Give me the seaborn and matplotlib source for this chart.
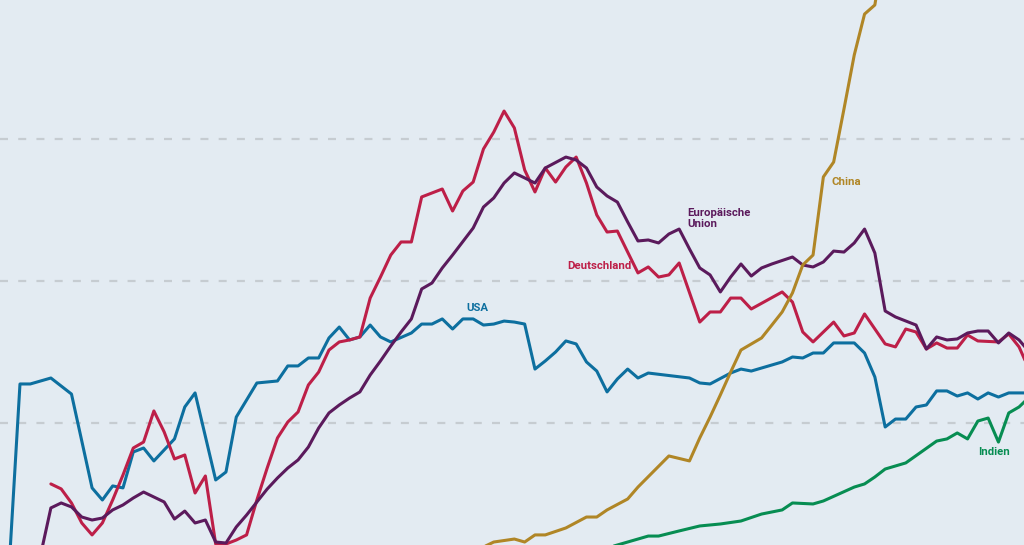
import numpy as np
import pandas as pd
import matplotlib
matplotlib.use('Agg')
import matplotlib.pyplot as plt
import seaborn as sns

jahre_usa = [1924, 1925, 1926, 1928, 1930, 1932, 1933, 1934, 1935, 1936, 1937, 1938,
             1940, 1941, 1942, 1944, 1945, 1946, 1948, 1950, 1951, 1952, 1953, 1954,
             1955, 1956, 1957, 1958, 1959, 1960, 1961, 1963, 1964, 1965, 1966, 1967,
             1968, 1969, 1970, 1971, 1972, 1973, 1974, 1975, 1976, 1977, 1978, 1979,
             1980, 1981, 1982, 1983, 1984, 1985, 1986, 1990, 1991, 1992, 1994, 1995,
             1996, 1999, 2000, 2001, 2002, 2003, 2004, 2006, 2007, 2008, 2009, 2010,
             2011, 2012, 2013, 2014, 2015, 2016, 2017, 2018, 2019, 2020, 2021, 2022, 2023]
werte_usa = [5, 127.5, 127.5, 131.7, 120.4, 54.3, 45.8, 55.7, 54.3, 79.6, 82.4, 73.3,
             88.8, 111.3, 121.2, 59.9, 65.5, 104.2, 128.2, 129.6, 140.2, 140.2, 145.8, 145.8,
             159.9, 167.6, 158.5, 160.6, 169.0, 160.6, 157.1, 163.4, 169.7, 169.7, 173.3, 166.2,
             173.3, 173.3, 169.0, 169.7, 171.8, 171.1, 169.7, 138.0, 143.7, 150.0, 157.8, 155.7,
             143.0, 136.6, 121.9, 131.0, 138.0, 131.7, 135.2, 131.7, 128.2, 127.5, 135.2, 138.0,
             136.6, 143.0, 146.5, 145.8, 149.3, 149.3, 156.4, 156.4, 149.3, 132.4, 97.2, 102.8,
             102.8, 111.3, 112.7, 122.6, 122.6, 119.0, 121.2, 116.9, 121.2, 118.3, 121.2, 121.2, 121.2]

jahre_de = [1928, 1929, 1930, 1931, 1932, 1933, 1934, 1935, 1936, 1937, 1938, 1939,
            1940, 1941, 1942, 1943, 1944, 1945, 1946, 1947, 1948, 1949, 1950, 1951,
            1952, 1953, 1954, 1955, 1956, 1957, 1958, 1959, 1960, 1961, 1962, 1963,
            1964, 1966, 1967, 1968, 1969, 1970, 1971, 1972, 1973, 1974, 1975, 1976,
            1977, 1978, 1979, 1980, 1981, 1982, 1983, 1984, 1985, 1986, 1987, 1988,
            1989, 1991, 1992, 1993, 1994, 1995, 1996, 1999, 2000, 2001, 2002, 2004,
            2005, 2006, 2007, 2009, 2010, 2011, 2012, 2013, 2014, 2015, 2016, 2017,
            2018, 2020, 2021, 2022, 2023]
werte_de = [57.1, 53.6, 43.7, 29.6, 21.2, 29.6, 45.8, 63.4, 82.4, 86.6, 108.5, 93.7,
            74.7, 77.5, 50.7, 62.7, 14.8, 14.8, 17.6, 21.2, 45.8, 68.3, 89.5, 100.7,
            107.8, 126.8, 135.9, 151.4, 157.1, 158.5, 160.6, 188.0, 202.8, 218.3, 227.5, 227.5,
            259.2, 264.8, 249.3, 263.4, 269.7, 293.0, 304.9, 319.7, 307.8, 278.2, 262.7, 279.6,
            269.7, 280.3, 287.3, 269.0, 246.5, 234.5, 235.2, 220.4, 205.7, 209.9, 202.8, 204.3,
            212.7, 171.1, 178.2, 178.2, 188.0, 188.0, 180.3, 192.3, 185.2, 164.1, 157.1, 171.1,
            161.3, 163.4, 176.8, 155.7, 153.6, 166.2, 164.1, 152.1, 156.4, 152.8, 152.8, 162.0,
            157.8, 157.1, 162.7, 153.6, 137.3]

jahre_eu = [1927, 1928, 1929, 1930, 1931, 1932, 1933, 1934, 1935, 1936, 1937, 1938,
            1939, 1940, 1941, 1942, 1943, 1944, 1945, 1946, 1947, 1948, 1949, 1950,
            1951, 1952, 1953, 1954, 1955, 1956, 1957, 1958, 1959, 1960, 1961, 1962,
            1963, 1964, 1965, 1966, 1967, 1969, 1970, 1971, 1972, 1973, 1974, 1975,
            1976, 1978, 1979, 1980, 1981, 1982, 1983, 1984, 1985, 1986, 1987, 1988,
            1989, 1990, 1991, 1992, 1993, 1994, 1995, 1996, 1997, 1998, 2000, 2001,
            2002, 2003, 2004, 2005, 2006, 2007, 2008, 2009, 2010, 2012, 2013, 2014,
            2015, 2016, 2017, 2018, 2019, 2020, 2021, 2022, 2023]
werte_eu = [7.1, 40.2, 43.7, 40.9, 33.8, 31.7, 33.1, 38.8, 42.3, 47.2, 51.4, 47.9,
            44.4, 32.4, 38.0, 29.6, 31.7, 16.2, 15.5, 26.8, 35.2, 44.4, 53.5, 61.3,
            68.3, 74.0, 83.1, 96.5, 107.1, 112.7, 117.6, 121.9, 133.8, 143.7, 154.2, 164.1,
            173.3, 194.4, 198.6, 209.2, 218.3, 237.3, 252.1, 258.5, 269.0, 276.1, 272.6, 269.0,
            279.6, 287.3, 285.2, 279.6, 266.2, 259.9, 255.6, 241.6, 228.2, 228.9, 226.8, 233.1,
            236.6, 222.6, 209.2, 204.3, 192.3, 202.8, 212.0, 203.5, 209.2, 212.0, 216.9, 211.3,
            209.9, 213.4, 221.1, 220.4, 226.8, 236.6, 219.7, 178.9, 174.7, 169.0, 152.1, 160.6,
            158.5, 159.2, 163.4, 164.8, 164.8, 156.4, 163.4, 158.5, 150.0]

jahre_cn = [1970, 1971, 1973, 1974, 1975, 1976, 1978, 1980, 1981, 1982, 1984, 1985,
            1988, 1990, 1991, 1992, 1993, 1994, 1995, 1997, 1998, 1999, 2000, 2001,
            2002, 2003, 2004, 2005, 2006, 2007, 2008, 2009]
werte_cn = [12.7, 16.2, 18.3, 16.2, 21.2, 21.2, 26.1, 33.8, 33.8, 38.8, 46.5, 54.9,
            76.8, 73.3, 89.5, 104.2, 119.8, 135.9, 151.4, 159.9, 169.0, 178.2, 191.6, 211.3,
            218.3, 273.3, 283.8, 321.1, 359.2, 388.0, 394.4, 440.2]

jahre_in = [1982, 1985, 1986, 1987, 1989, 1991, 1993, 1995, 1997, 1999, 2000, 2002,
            2003, 2006, 2007, 2008, 2009, 2011, 2014, 2015, 2016, 2017, 2018, 2019,
            2020, 2021, 2022, 2023]
werte_in = [12.0, 18.3, 20.4, 20.4, 24.0, 27.5, 28.9, 31.0, 35.9, 38.8, 43.7, 43.0,
            45.1, 54.9, 57.1, 62.0, 67.6, 71.9, 87.3, 88.8, 93.0, 88.8, 101.4, 103.5,
            86.6, 107.1, 111.3, 118.3]

laender = ['USA', 'Deutschland', 'Europäische Union', 'China', 'Indien']
farben = ['#0d6f9f', '#bd1f48', '#5b1a5c', '#b08626', '#078d52']

df = pd.concat([
    pd.DataFrame({'Jahr': jahre_usa, 'Wert': werte_usa, 'Land': 'USA'}),
    pd.DataFrame({'Jahr': jahre_de, 'Wert': werte_de, 'Land': 'Deutschland'}),
    pd.DataFrame({'Jahr': jahre_eu, 'Wert': werte_eu, 'Land': 'Europäische Union'}),
    pd.DataFrame({'Jahr': jahre_cn, 'Wert': werte_cn, 'Land': 'China'}),
    pd.DataFrame({'Jahr': jahre_in, 'Wert': werte_in, 'Land': 'Indien'}),
])

sns.set_theme(style='white')
plt.rcParams['font.family'] = ['Roboto', 'DejaVu Sans']

hintergrund = '#e3ebf2'
fig = plt.figure(figsize=(10.24, 5.45), dpi=100, facecolor=hintergrund)
ax = fig.add_axes([0, 0, 1, 1])
ax.set_facecolor(hintergrund)

for y in [100, 200, 300]:
    ax.axhline(y, color='#c6ccd1', linewidth=1.6, linestyle=(0, (3.6, 4.6)), zorder=0)

sns.lineplot(data=df, x='Jahr', y='Wert', hue='Land', hue_order=laender,
             palette=farben, estimator=None, linewidth=2.2, legend=False, ax=ax)

ax.set_xlim(1923.06, 2022.48)
ax.set_ylim(14.1, 397.9)
ax.set_xticks([])
ax.set_yticks([])
ax.set_xlabel('')
ax.set_ylabel('')
for s in ax.spines.values():
    s.set_visible(False)

stil = dict(fontsize=8.2, fontweight='bold', va='center')
ax.text(1969.4, 181.0, 'USA', color=farben[0], ha='center', **stil)
ax.text(1981.3, 210.6, 'Deutschland', color=farben[1], ha='center', **stil)
ax.text(1989.8, 244.0, 'Europäische\nUnion', color=farben[2], ha='left', linespacing=1.2, **stil)
ax.text(2003.8, 269.7, 'China', color=farben[3], ha='left', **stil)
ax.text(2018.0, 79.6, 'Indien', color=farben[4], ha='left', **stil)

plt.savefig('out.png', dpi=100, facecolor=hintergrund)
plt.close()
